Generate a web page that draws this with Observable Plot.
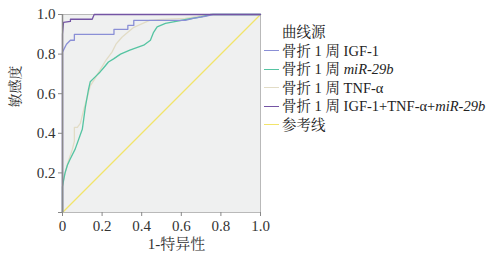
<!DOCTYPE html>
<html><head><meta charset="utf-8">
<script src="https://cdn.jsdelivr.net/npm/d3@7"></script>
<script src="https://cdn.jsdelivr.net/npm/@observablehq/plot@0.6"></script>
<style>
body{margin:0;background:#fff;}
#wrap{position:relative;width:500px;height:254px;font-family:"Liberation Serif","Noto Serif CJK SC","Noto Sans CJK SC",serif;color:#222;}
#legend{position:absolute;left:264px;top:23px;font-size:14.5px;line-height:18.5px;white-space:nowrap;}
#legend .row{display:flex;align-items:center;height:18.5px;}
#legend .sw{display:inline-block;width:15px;height:0;border-top:1.5px solid;margin-right:3px;}
#legend .title{padding-left:18px;height:18.5px;}
</style></head>
<body><div id="wrap"><div id="chart"></div><div id="legend"></div></div>
<script>
const seriesNames = ["骨折 1 周 IGF-1","骨折 1 周 miR-29b","骨折 1 周 TNF-α","骨折 1 周 IGF-1+TNF-α+miR-29b","参考线"];
const legendHtml = ["骨折 1 周 IGF-1","骨折 1 周 <i>miR-29b</i>","骨折 1 周 TNF-α","骨折 1 周 IGF-1+TNF-α+<i>miR-29b</i>","参考线"];
const seriesColors = ["#8a8fd6","#55c4a2","#e2dcc6","#7454a4","#f2e46a"];
const legendTitle = "曲线源";
const xTicks = [0,0.2,0.4,0.6,0.8,1.0];
const yTicks = [0,0.2,0.4,0.6,0.8,1.0];
const xLabel = "1-特异性";
const yLabel = "敏感度";

const igf1 = [[0,0],[0,0.70],[0,0.81],[0.01,0.83],[0.02,0.85],[0.03,0.86],[0.04,0.87],[0.06,0.87],[0.06,0.90],[0.26,0.90],[0.26,0.925],[0.33,0.925],[0.33,0.945],[0.36,0.945],[0.36,0.97],[0.62,0.97],[0.66,0.98],[0.72,0.99],[0.76,1.0],[1,1]];
const mir29b = [[0,0],[0,0.13],[0.005,0.16],[0.013,0.20],[0.025,0.24],[0.039,0.27],[0.064,0.32],[0.089,0.39],[0.10,0.42],[0.115,0.53],[0.131,0.62],[0.14,0.66],[0.165,0.685],[0.19,0.71],[0.207,0.73],[0.232,0.76],[0.258,0.776],[0.293,0.80],[0.34,0.82],[0.41,0.845],[0.444,0.87],[0.46,0.91],[0.478,0.938],[0.52,0.955],[0.56,0.963],[0.63,0.976],[0.70,0.988],[0.75,1.0],[1,1]];
const tnf = [[0,0],[0,0.13],[0.01,0.19],[0.03,0.26],[0.05,0.32],[0.06,0.36],[0.06,0.43],[0.075,0.43],[0.09,0.45],[0.11,0.53],[0.13,0.60],[0.14,0.64],[0.16,0.67],[0.19,0.72],[0.22,0.77],[0.25,0.81],[0.27,0.85],[0.30,0.885],[0.36,0.935],[0.44,0.97],[0.5,0.975],[0.62,0.98],[0.75,1.0],[1,1]];
const combined = [[0,0],[0,0.90],[0.005,0.96],[0.04,0.965],[0.04,0.976],[0.15,0.976],[0.16,1.0],[1,1]];
const reference = [[0,0],[1,1]];

const pts = [igf1, mir29b, tnf, combined, reference];
const drawOrder = [4,2,1,0,3];
const rows = drawOrder.flatMap(i => pts[i].map(([x,y]) => ({x, y, s: seriesNames[i]})));

const serif = '"Liberation Serif","Noto Serif CJK SC","Noto Sans CJK SC",serif';
const chart = Plot.plot({
  width: 500, height: 254,
  marginLeft: 62, marginRight: 240, marginTop: 14, marginBottom: 42,
  style: {fontFamily: serif, fontSize: "15px", color: "#333", background: "transparent"},
  x: {domain: [0,1]},
  y: {domain: [0,1]},
  color: {domain: seriesNames, range: seriesColors},
  marks: [
    Plot.frame({fill: "#eff0f0", stroke: "#b9b9b9"}),
    Plot.line(rows, {x: "x", y: "y", z: "s", stroke: "s", strokeWidth: 1.3}),
    Plot.axisX({ticks: xTicks, tickFormat: d => d === 0 ? "0" : d.toFixed(1), tickSize: 4, tickPadding: 4, label: null, stroke: "#888", fill: "#333", fontFamily: serif}),
    Plot.axisY({ticks: yTicks, tickFormat: d => d === 0 ? "" : d.toFixed(1), tickSize: 4, tickPadding: 3, label: null, stroke: "#888", fill: "#333", fontFamily: serif}),
    Plot.ruleX([0], {stroke: "#8a8a8a", strokeWidth: 1.5}),
    Plot.text([xLabel], {frameAnchor: "bottom", dy: 36, dx: 15, fontSize: 15, fill: "#333", fontFamily: serif}),
    Plot.text([yLabel], {frameAnchor: "left", dx: -47, dy: -6, rotate: -90, fontSize: 14, fill: "#333", fontFamily: serif})
  ]
});
document.getElementById("chart").appendChild(chart);

const lg = document.getElementById("legend");
lg.innerHTML = `<div class="title">${legendTitle}</div>` +
  legendHtml.map((t,i) => `<div class="row"><span class="sw" style="border-color:${seriesColors[i]}"></span><span>${t}</span></div>`).join("");
</script>
</body></html>
